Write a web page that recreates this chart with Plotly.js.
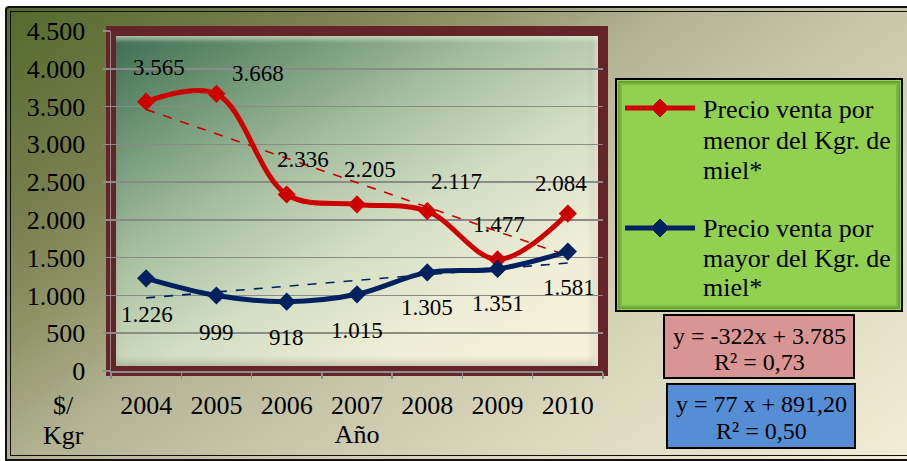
<!DOCTYPE html>
<html>
<head>
<meta charset="utf-8">
<script src="https://cdn.plot.ly/plotly-3.0.1.min.js"></script>
<style>
  html, body { margin:0; padding:0; background:#ffffff; width:907px; height:461px; overflow:hidden; }
  #outer { position:absolute; left:5px; top:6px; width:906px; height:451px; border:2px solid #111;
           border-radius:4px 0 0 0;
           background: linear-gradient(145deg, #536a2c 0%, #7b8050 21%, #8f9264 30%, #b3b394 43%, #c9c7ab 58%, #ddd9bf 75%, #f2edd5 100%); }
  #outerInner { position:absolute; left:3px; top:3px; right:3px; bottom:3px; border:1px solid #111; }
  #panel { position:absolute; left:116px; top:36px; width:482px; height:330px;
           background: linear-gradient(150deg, #3e6e52 0%, #6f9676 18%, #a8c0a0 38%, #d3dec3 58%, #efeed6 78%, #f8f1da 100%);
           box-shadow: inset 0 7px 4px -3px rgba(235,250,230,0.55), inset -7px 0 5px -3px rgba(255,255,240,0.55), inset -3px -3px 8px rgba(0,0,0,0.22); }
  #chart { position:absolute; left:0; top:0; width:907px; height:461px; }
</style>
</head>
<body>
<div id="outer"><div id="outerInner"></div></div>
<div id="panel"></div>
<div id="chart"></div>
<script>
// ---- data ----
const years = ['2004','2005','2006','2007','2008','2009','2010'];
const retail = [3565, 3668, 2336, 2205, 2117, 1477, 2084];
const wholesale = [1226, 999, 918, 1015, 1305, 1351, 1581];
const retailLegend = ['Precio venta por', 'menor del Kgr. de', 'miel*'];
const wholesaleLegend = ['Precio venta por', 'mayor del Kgr. de', 'miel*'];
const retailEq = ['y = -322x + 3.785', 'R\u00b2 = 0,73'];
const wholesaleEq = ['y = 77 x + 891,20', 'R\u00b2 = 0,50'];
const yAxisTitle = ['$/', 'Kgr'];
const xAxisTitle = 'Año';

// ---- styles / layout constants ----
const RED = '#cc0000', BLUE = '#00215f', FRAME = '#65232a';
const FONT = 'Liberation Serif, Times New Roman, serif';
const redShift = [[13,34],[42,20],[16,35],[13,35],[29,30],[1,35],[-7,30]];
const blueShift = [[1,-36],[0,-37],[0,-36],[0,-36],[0,-35],[0,-35],[1,-36]];

// least squares trend (over index 1..n)
function trend(vals){
  const n = vals.length; let sx=0, sy=0, sxx=0, sxy=0;
  vals.forEach((v,i)=>{const x=i+1; sx+=x; sy+=v; sxx+=x*x; sxy+=x*v;});
  const b = (n*sxy - sx*sy)/(n*sxx - sx*sx); const a = (sy - b*sx)/n;
  return vals.map((v,i)=>a + b*(i+1));
}
function fmt(v){ return String(Math.round(v)).replace(/\B(?=(\d{3})+(?!\d))/g, '.'); }

// pixel -> paper helpers (plot area: x 111..603, y 31..371)
const L=111, W=492, T=31, H=340;
const PX = x => (x-L)/W;
const PY = y => (T+H-y)/H;

const traces = [
  {x: years, y: trend(retail), mode:'lines', line:{color:RED, width:1.6, dash:'dash'}, hoverinfo:'skip', showlegend:false},
  {x: years, y: trend(wholesale), mode:'lines', line:{color:BLUE, width:1.6, dash:'dash'}, hoverinfo:'skip', showlegend:false},
  {x: years, y: retail, name: retailLegend.join(' '), mode:'lines+markers',
   line:{color:RED, width:5, shape:'spline', smoothing:1}, marker:{symbol:'diamond', size:14, color:RED}, showlegend:false},
  {x: years, y: wholesale, name: wholesaleLegend.join(' '), mode:'lines+markers',
   line:{color:BLUE, width:5, shape:'spline', smoothing:1}, marker:{symbol:'diamond', size:14, color:BLUE}, showlegend:false}
];

const annotations = [];
years.forEach((yr,i)=>{
  // category axis: annotation x is the category's serial index
  annotations.push({x:i, y:retail[i], xref:'x', yref:'y', text:fmt(retail[i]), showarrow:false,
    xshift:redShift[i][0], yshift:redShift[i][1], font:{family:FONT, size:23, color:'#000'}});
  annotations.push({x:i, y:wholesale[i], xref:'x', yref:'y', text:fmt(wholesale[i]), showarrow:false,
    xshift:blueShift[i][0], yshift:blueShift[i][1], font:{family:FONT, size:23, color:'#000'}});
});
function txt(text, x, y, size, anchor){
  annotations.push({xref:'paper', yref:'paper', x:PX(x), y:PY(y), text:text, showarrow:false,
    xanchor:anchor||'center', yanchor:'middle', font:{family:FONT, size:size, color:'#000'}});
}
// legend text
retailLegend.forEach((t,i)=>txt(t, 701, 110 + i*30, 26, 'left'));
wholesaleLegend.forEach((t,i)=>txt(t, 701, 229 + i*29, 26, 'left'));
// equations
retailEq.forEach((t,i)=>txt(t, 759, 336 + i*26, 24));
wholesaleEq.forEach((t,i)=>txt(t, 761, 404 + i*27, 24));
// y axis title
yAxisTitle.forEach((t,i)=>txt(t, 63, 405 + i*30, 26));

function rect(x0,y0,x1,y1,fill,lineColor,lw,layer){
  return {type:'rect', xref:'paper', yref:'paper', x0:PX(x0), x1:PX(x1), y0:PY(y0), y1:PY(y1),
    fillcolor:fill, line:{color:lineColor, width:lw}, layer:layer||'above'};
}
function diamond(cx,cy,r,color){
  const p = `M ${PX(cx-r)} ${PY(cy)} L ${PX(cx)} ${PY(cy-r)} L ${PX(cx+r)} ${PY(cy)} L ${PX(cx)} ${PY(cy+r)} Z`;
  return {type:'path', xref:'paper', yref:'paper', path:p, fillcolor:color, line:{color:color, width:1}};
}
const shapes = [
  // maroon frame around plot area
  {type:'rect', xref:'paper', yref:'paper', x0:0, x1:1, y0:0, y1:1, line:{color:FRAME, width:10}, fillcolor:'rgba(0,0,0,0)', layer:'between'},
  // legend box
  rect(616,79,902,311,'#92d050','#000',2),
  rect(619,82,899,308,'rgba(0,0,0,0)','rgba(40,80,10,0.35)',2),
  rect(621,84,897,306,'rgba(0,0,0,0)','rgba(40,80,10,0.18)',2),
  // legend samples
  {type:'line', xref:'paper', yref:'paper', x0:PX(625), x1:PX(695), y0:PY(108), y1:PY(108), line:{color:RED, width:5}},
  diamond(660,108,9,RED),
  {type:'line', xref:'paper', yref:'paper', x0:PX(625), x1:PX(695), y0:PY(228), y1:PY(228), line:{color:BLUE, width:5}},
  diamond(660,228,9,BLUE),
  // equation boxes
  rect(664,315,854,378,'#d99594','#000',2),
  rect(667,384,855,448,'#558ed5','#000',2)
];

const layout = {
  width:907, height:461,
  margin:{l:L, r:907-L-W, t:T, b:461-T-H, pad:0},
  paper_bgcolor:'rgba(0,0,0,0)', plot_bgcolor:'rgba(0,0,0,0)',
  separators:',.',
  showlegend:false,
  font:{family:FONT, size:26, color:'#000'},
  xaxis:{type:'category', range:[-0.5,6.5], showgrid:false, zeroline:false,
    showline:true, linecolor:'#8c8c8c', linewidth:1.5,
    ticks:'outside', tickson:'boundaries', ticklen:6, tickcolor:'#8c8c8c', tickwidth:1.5,
    ticklabelstandoff:10, tickfont:{family:FONT, size:26, color:'#000'},
    title:{text:xAxisTitle, font:{family:FONT, size:26, color:'#000'}, standoff:4}},
  yaxis:{range:[0,4500], dtick:500, tickformat:',d', showgrid:true, gridcolor:'#8a8a8a', gridwidth:1.5,
    zeroline:false, showline:true, linecolor:'#8c8c8c', linewidth:1.5,
    ticks:'outside', ticklen:7, tickcolor:'#8c8c8c', tickwidth:1.5,
    ticklabelstandoff:12, tickfont:{family:FONT, size:26, color:'#000'}},
  shapes:shapes,
  annotations:annotations
};
Plotly.newPlot('chart', traces, layout, {displayModeBar:false, staticPlot:true});
</script>
</body>
</html>
